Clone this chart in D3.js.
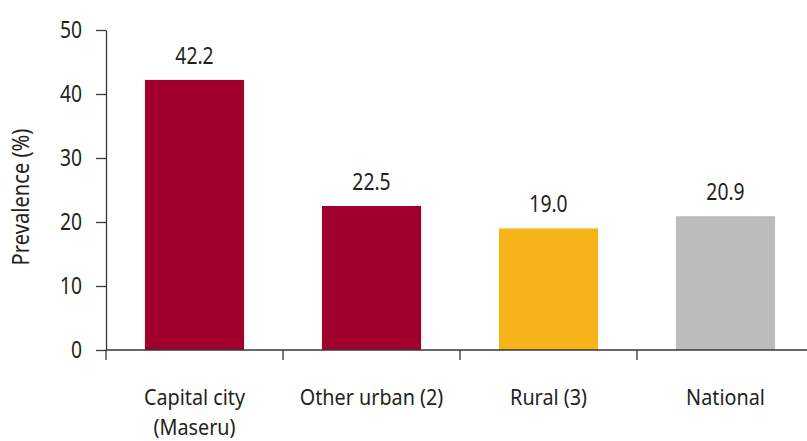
<!DOCTYPE html>
<html>
<head>
<meta charset="utf-8">
<script src="https://cdn.jsdelivr.net/npm/d3@7"></script>
<style>
  body { margin: 0; background: #fff; }
  text { font-family: "Noto Sans", sans-serif; fill: #231f20; }
</style>
</head>
<body>
<svg id="chart" width="807" height="441"></svg>
<script>
// data
var categories = ['Capital city\n(Maseru)', 'Other urban (2)', 'Rural (3)', 'National']
var prevalence = [42.2, 22.5, 19.0, 20.9]
var barColors = ['#a0002b', '#a0002b', '#f6b418', '#bbbcbb']
var yTicks = [0, 10, 20, 30, 40, 50]

var svg = d3.select('#chart')
var axisColor = '#3a3536'
var squeeze = 0.84 // narrow the font to look like the condensed original

var x = d3.scaleBand().domain(categories).range([106, 814]).paddingInner(0.44).paddingOuter(0.22)
var y = d3.scaleLinear().domain([0, 50]).range([350, 30])

function place(px, py, s) {
  return 'translate(' + px + ',' + py + ') scale(' + (s || squeeze) + ',1)'
}

// bars
svg.selectAll('rect.bar')
  .data(prevalence)
  .enter()
  .append('rect')
  .attr('class', 'bar')
  .attr('x', function (d, i) { return x(categories[i]) })
  .attr('width', x.bandwidth())
  .attr('y', function (d) { return y(d) })
  .attr('height', function (d) { return y(0) - y(d) })
  .style('fill', function (d, i) { return barColors[i] })

// value labels
svg.selectAll('text.val')
  .data(prevalence)
  .enter()
  .append('text')
  .attr('class', 'val')
  .attr('transform', function (d, i) { return place(x(categories[i]) + x.bandwidth() / 2, y(d) - 16) })
  .attr('text-anchor', 'middle')
  .style('font-size', '23px')
  .text(function (d) { return d.toFixed(1) })

// y axis (labels drawn separately so they can be narrowed)
var yAxis = svg.append('g')
  .attr('transform', 'translate(106,0)')
  .call(d3.axisLeft(y).tickValues(yTicks).tickSize(10).tickFormat('').tickSizeOuter(0))
yAxis.select('.domain').attr('stroke', axisColor).attr('stroke-width', 1.3)
yAxis.selectAll('.tick line').attr('stroke', axisColor).attr('stroke-width', 1.3)

svg.selectAll('text.ytick')
  .data(yTicks)
  .enter()
  .append('text')
  .attr('class', 'ytick')
  .attr('transform', function (d) { return place(82, y(d) + 8) })
  .attr('text-anchor', 'end')
  .style('font-size', '23px')
  .text(function (d) { return d })

// x axis: line plus ticks at band boundaries
var xAxisG = svg.append('g').attr('transform', 'translate(0,' + y(0) + ')')
xAxisG.append('line')
  .attr('x1', 106).attr('x2', 807)
  .attr('stroke', axisColor).attr('stroke-width', 1.3)
var step = x.step()
var bounds = categories.map(function (c) { return x(c) - (step - x.bandwidth()) / 2 })
xAxisG.selectAll('line.sep')
  .data(bounds)
  .enter()
  .append('line')
  .attr('class', 'sep')
  .attr('x1', function (d) { return d }).attr('x2', function (d) { return d })
  .attr('y1', 0).attr('y2', 10)
  .attr('stroke', axisColor).attr('stroke-width', 1.3)

// category labels
svg.selectAll('text.cat')
  .data(categories)
  .enter()
  .append('text')
  .attr('class', 'cat')
  .attr('text-anchor', 'middle')
  .style('font-size', '22px')
  .attr('transform', function (d) { return place(x(d) + x.bandwidth() / 2, 405, 0.9) })
  .selectAll('tspan')
  .data(function (d) { return d.split('\n') })
  .enter()
  .append('tspan')
  .attr('x', 0)
  .attr('dy', function (d, i) { return i === 0 ? 0 : 30 })
  .text(function (d) { return d })

// y axis title
svg.append('text')
  .attr('transform', 'translate(29,197) rotate(-90) scale(' + squeeze + ',1)')
  .attr('text-anchor', 'middle')
  .style('font-size', '24px')
  .text('Prevalence (%)')
</script>
</body>
</html>
